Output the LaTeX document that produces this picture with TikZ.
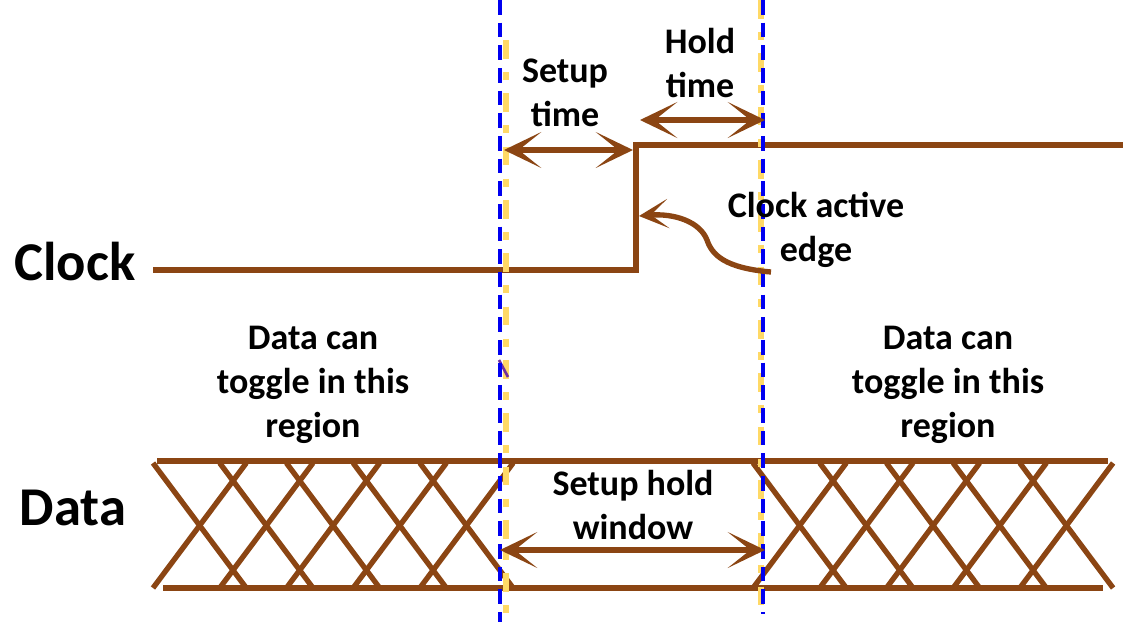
\documentclass[tikz,border=0pt]{standalone}
\usepackage{fontspec}
\setmainfont{Carlito}
\usetikzlibrary{arrows.meta}
\definecolor{brn}{RGB}{139,69,19}
\definecolor{ylw}{RGB}{255,217,102}
\definecolor{blu}{RGB}{0,0,240}
\definecolor{prp}{RGB}{112,48,160}
\tikzset{
  sig/.style={draw=brn, line width=4pt, line cap=butt},
  dbl/.style={draw=brn, line width=4.5pt, {Stealth[length=28pt,width=27pt,inset=17pt]}-{Stealth[length=28pt,width=27pt,inset=17pt]}},
  edgearrow/.style={draw=brn, line width=4pt, -{Stealth[length=22pt,width=22pt,inset=13pt]}},
  lbl/.style={font=\fontsize{27}{33}\selectfont\bfseries, align=center, inner sep=0pt},
  big/.style={font=\fontsize{41}{45}\selectfont\bfseries, inner sep=0pt},
  bluedash/.style={draw=blu, line width=3.2pt, dash pattern=on 11pt off 6pt},
  yellowdash/.style={draw=ylw, line width=4pt, dash pattern=on 14pt off 10pt on 6pt off 10pt},
}
\begin{document}
\begin{tikzpicture}[x=0.75pt,y=-0.75pt]
\useasboundingbox (0,0) rectangle (1139,626);
% clock waveform
\coordinate (c0) at (153,270);
\coordinate (c1) at (636,270);
\coordinate (c2) at (636,145);
\coordinate (c3) at (1123,145);
\draw[sig] (c0) -- (c1) -- (c2) -- (c3);
% data lines
\coordinate (dt0) at (157,461);
\coordinate (dt1) at (1108,461);
\coordinate (db0) at (163,588);
\coordinate (db1) at (1103,588);
\draw[sig] (dt0) -- (dt1);
\draw[sig] (db0) -- (db1);
% hatching
\foreach \s in {153,753}{
  \foreach \i in {0,...,4}{
    \draw[sig] ({\s+\i*66.7},463) -- ++(93.3,125);
    \draw[sig] ({\s+\i*66.7},588) -- ++(93.3,-125);
  }
}
% dashed vertical guides
\coordinate (ly0) at (506,40);
\coordinate (ly1) at (506,615);
\coordinate (ry0) at (761,0);
\coordinate (ry1) at (761,612);
\draw[yellowdash] (ly0) -- (ly1);
\draw[yellowdash] (ry0) -- (ry1);
\draw[prp, line width=2pt] (499,360) -- (508,377);
\coordinate (lb0) at (500,0);
\coordinate (lb1) at (500,622);
\coordinate (rb0) at (763,0);
\coordinate (rb1) at (763,614);
\draw[bluedash] (lb0) -- (lb1);
\draw[bluedash] (rb0) -- (rb1);
% arrows
\coordinate (su0) at (504,150);
\coordinate (su1) at (633,150);
\draw[dbl] (su0) -- (su1);
\coordinate (ho0) at (640,120);
\coordinate (ho1) at (765,120);
\draw[dbl] (ho0) -- (ho1);
\coordinate (sh0) at (500,550);
\coordinate (sh1) at (765,550);
\draw[dbl] (sh0) -- (sh1);
\coordinate (ea0) at (771,272);
\coordinate (eam) at (707,240);
\coordinate (ea1) at (639,216);
\draw[edgearrow] (ea0) .. controls (725,268) and (712,255) .. (eam) .. controls (700,222) and (675,213) .. (ea1);
% labels
\node[big] (clk) at (75,262) {Clock};
\node[big] (dat) at (73,508) {Data};
\node[lbl] (setup) at (565,93) {Setup\\time};
\node[lbl] (hold) at (700,63) {Hold\\time};
\node[lbl] (cae) at (816,230) {Clock active\\edge};
\node[lbl] (dl) at (313,385) {Data can\\toggle in this\\region};
\node[lbl] (dr) at (948,385) {Data can\\toggle in this\\region};
\node[lbl] (shw) at (633,505) {Setup hold\\window};
\end{tikzpicture}
\end{document}
